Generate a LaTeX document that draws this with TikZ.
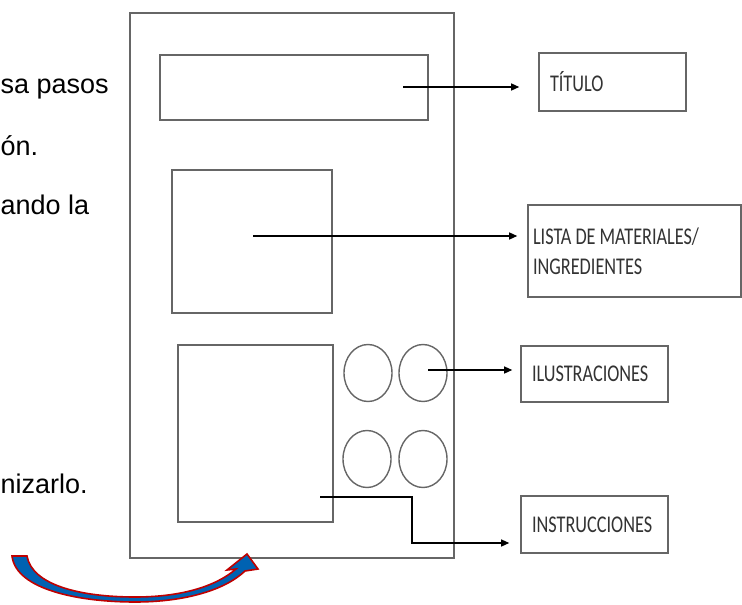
\documentclass[tikz,border=0pt]{standalone}
\usepackage{fontspec}
\setmainfont{Liberation Sans}
\newfontfamily\boxfont[FakeStretch=0.76]{Carlito}
\newcommand\gap{\hspace{4pt}}
\usetikzlibrary{arrows.meta,shapes.geometric,positioning}
\tikzset{
    page part/.style={
        draw=black!60,line width=1.6pt,
        inner sep=0pt
    },
    label box/.style={
        draw=black!60,line width=1.6pt,
        fill=white,
        inner xsep=11pt,inner ysep=0pt,align=left,
        text=black!80,
        font=\boxfont\fontsize{24}{30}\selectfont
    },
    ill circle/.style={
        ellipse,draw=black!60,line width=1.4pt,
        minimum width=48pt,minimum height=57pt,inner sep=0pt
    },
    side text/.style={
        anchor=base west,inner sep=0pt,
        font=\fontsize{27}{34}\selectfont
    },
    >={Triangle[length=8pt,width=7pt]}
}

\begin{document}
\begin{tikzpicture}[x=1pt,y=-1pt]
\useasboundingbox (0,0) rectangle (742,605);
% text cut off on the left
\foreach \i/\txt/\y in {1/sa pasos/93,2/ón./155,3/ando la/214,4/nizarlo./493}
    \node[side text] (side_\i) at (0.5,\y) {\txt};
% the sheet
\node[page part,minimum width=324pt,minimum height=545pt] (page) at (292,285.5) {};
\node[page part,minimum width=268pt,minimum height=65pt] (title area) at (294,87.5) {};
\node[page part,minimum width=160pt,minimum height=143pt] (list area) at (252,241.5) {};
\node[page part,minimum width=155pt,minimum height=177pt] (steps area) at (255.5,433.5) {};
\foreach \i/\x/\y in {1/368/373,2/423/373,3/367/459,4/423/459}
    \node[ill circle] (circ_\i) at (\x,\y) {};
% labels
\node[label box,text width=125pt,minimum height=58pt] (titulo) at (612.5,82) {TÍTULO};
\node[label box,inner xsep=5pt,text width=203pt,minimum height=92pt] (lista) at (634.5,251) {LISTA\gap DE\gap MATERIALES/\\INGREDIENTES};
\node[label box,text width=125pt,minimum height=56pt] (ilus) at (594.5,374) {ILUSTRACIONES};
\node[label box,text width=125pt,minimum height=57pt] (instr) at (594.5,524.5) {INSTRUCCIONES};
% connectors
\coordinate (t_from) at (403,87);
\coordinate (l_from) at (253,236);
\coordinate (i_from) at (428,370);
\coordinate (s_from) at (320,497);
\coordinate (s_bend) at (412,543);
\draw[->,line width=1.3pt,shorten >=19pt] (t_from) -- (t_from -| titulo.west);
\draw[->,line width=1.3pt,shorten >=10pt] (l_from) -- (l_from -| lista.west);
\draw[->,line width=1.3pt,shorten >=8pt] (i_from) -- (i_from -| ilus.west);
\draw[->,line width=1.3pt,shorten >=11pt] (s_from) -| (s_bend) -- (s_bend -| instr.west);
% curved arrow below
\draw[draw=red!75!black,fill=blue!45!cyan!70!black,line width=1.6pt,line join=miter]
    (12,556) .. controls (16,590) and (80,602) .. (135,602)
    .. controls (185,602) and (225,590) .. (245,571)
    -- (258,569) -- (247,554) -- (227,570) -- (236,569)
    .. controls (215,587) and (180,597) .. (135,597)
    .. controls (80,597) and (32,585) .. (27,556) -- cycle;
\end{tikzpicture}
\end{document}
